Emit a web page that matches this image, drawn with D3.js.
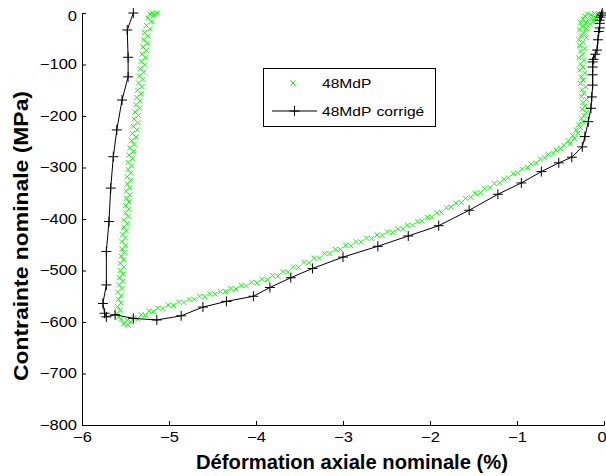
<!DOCTYPE html>
<html>
<head>
<meta charset="utf-8">
<script src="https://cdn.jsdelivr.net/npm/d3@7"></script>
<style>
  html, body { margin: 0; padding: 0; background: #fff; }
  svg { display: block; font-family: "Liberation Sans", Arial, sans-serif; }
</style>
</head>
<body>
<svg id="chart" width="606" height="476"></svg>
<script>
// ---------------- DATA ----------------
const xTicks = [-6, -5, -4, -3, -2, -1, 0];
const yTicks = [0, -100, -200, -300, -400, -500, -600, -700, -800];
const seriesNames = ["48MdP", "48MdP", "corrigé"];

// raw measured series "48MdP" (strain %, stress MPa)
const raw48MdP = [
  [-0.03,-1],[-0.07,-3],[-0.11,-1],[-0.15,-4],[-0.19,-2],[-0.22,-6],[-0.05,-7],[-0.1,-9],[-0.14,-11],[-0.18,-13],
  [-0.24,-12],[-0.27,-18],[-0.21,-20],[-0.16,-22],[-0.12,-17],[-0.25,-26],[-0.2,-30],[-0.28,-33],[-0.23,-38],[-0.26,-44],
  [-0.2,-48],[-0.29,-52],[-0.24,-57],[-0.28,-63],[-0.22,-69],[-0.27,-74],[-0.25,-81],[-0.29,-87],[-0.23,-92],[-0.27,-99],
  [-0.24,-105],[-0.28,-111],[-0.22,-117],[-0.26,-124],[-0.24,-130],[-0.27,-137],[-0.21,-143],[-0.25,-149],[-0.23,-156],[-0.26,-162],
  [-0.2,-168],[-0.24,-174],[-0.22,-181],[-0.25,-187],[-0.2,-193],[-0.23,-199],[-0.26,-205],[-0.24,-211],[-0.29,-216],[-0.27,-222],
  [-0.32,-227],[-0.3,-233],[-0.36,-238],[-0.34,-244],[-0.41,-248],[-0.39,-254],[-0.46,-257],[-0.5,-263],[-0.55,-266],[-0.58,-272],
  [-0.64,-275],[-0.68,-281],[-0.73,-284],[-0.78,-291],[-0.84,-293],[-0.88,-300],[-0.94,-303],[-0.99,-310],[-1.04,-312],[-1.1,-320],
  [-1.15,-322],[-1.2,-330],[-1.26,-331],[-1.31,-339],[-1.37,-341],[-1.42,-349],[-1.48,-350],[-1.53,-358],[-1.59,-360],[-1.64,-368],
  [-1.7,-369],[-1.76,-377],[-1.81,-378],[-1.87,-387],[-1.92,-388],[-1.98,-396],[-2.03,-397],[-2.09,-404],[-2.14,-405],[-2.2,-412],
  [-2.26,-412],[-2.31,-419],[-2.37,-419],[-2.43,-426],[-2.49,-425],[-2.55,-432],[-2.61,-431],[-2.67,-438],[-2.73,-437],[-2.79,-445],
  [-2.85,-444],[-2.91,-452],[-2.97,-451],[-3.03,-459],[-3.09,-459],[-3.15,-467],[-3.21,-467],[-3.27,-476],[-3.33,-476],[-3.39,-485],
  [-3.45,-484],[-3.51,-494],[-3.57,-493],[-3.63,-503],[-3.69,-502],[-3.75,-511],[-3.81,-510],[-3.87,-518],[-3.93,-517],[-3.99,-524],
  [-4.05,-523],[-4.11,-530],[-4.17,-529],[-4.23,-536],[-4.29,-535],[-4.35,-541],[-4.41,-541],[-4.47,-546],[-4.53,-545],[-4.59,-551],
  [-4.65,-550],[-4.71,-556],[-4.77,-556],[-4.83,-562],[-4.89,-561],[-4.95,-568],[-5.01,-567],[-5.07,-574],[-5.13,-573],[-5.18,-580],
  [-5.23,-579],[-5.27,-587],[-5.32,-586],[-5.36,-594],[-5.4,-592],[-5.44,-600],[-5.48,-597],[-5.52,-603],[-5.47,-606],[-5.55,-595],
  [-5.58,-590],[-5.6,-584],[-5.56,-577],[-5.59,-570],[-5.55,-563],[-5.58,-556],[-5.55,-549],[-5.59,-542],[-5.54,-535],[-5.57,-528],
  [-5.53,-521],[-5.57,-514],[-5.53,-507],[-5.56,-500],[-5.52,-493],[-5.56,-486],[-5.52,-479],[-5.55,-472],[-5.51,-465],[-5.54,-458],
  [-5.5,-451],[-5.54,-444],[-5.5,-437],[-5.53,-430],[-5.49,-423],[-5.52,-416],[-5.48,-409],[-5.52,-402],[-5.47,-395],[-5.5,-388],
  [-5.46,-381],[-5.5,-374],[-5.46,-367],[-5.49,-360],[-5.45,-353],[-5.49,-346],[-5.45,-339],[-5.48,-332],[-5.44,-325],[-5.48,-318],
  [-5.44,-311],[-5.47,-304],[-5.43,-297],[-5.47,-290],[-5.42,-283],[-5.46,-276],[-5.41,-269],[-5.45,-262],[-5.4,-255],[-5.43,-248],
  [-5.38,-241],[-5.42,-234],[-5.37,-227],[-5.41,-220],[-5.36,-213],[-5.4,-206],[-5.35,-199],[-5.39,-192],[-5.34,-185],[-5.38,-178],
  [-5.33,-171],[-5.37,-164],[-5.32,-157],[-5.36,-150],[-5.31,-143],[-5.35,-136],[-5.3,-129],[-5.34,-122],[-5.29,-115],[-5.33,-108],
  [-5.28,-101],[-5.32,-94],[-5.27,-87],[-5.31,-80],[-5.26,-73],[-5.3,-66],[-5.25,-59],[-5.29,-52],[-5.24,-45],[-5.28,-38],
  [-5.22,-31],[-5.26,-24],[-5.2,-17],[-5.24,-10],[-5.18,-5],[-5.22,-2],[-5.15,-1],[-5.19,0],[-5.13,0]
];

// corrected series "48MdP corrigé" (strain %, stress MPa)
const corrected48MdP = [
  [-0.02,0],[-0.03,-4],[-0.04,-8],[-0.05,-14],[-0.05,-20],[-0.05,-29],[-0.06,-36],[-0.07,-52],[-0.08,-72],[-0.1,-80],
  [-0.12,-90],[-0.13,-95],[-0.13,-105],[-0.13,-120],[-0.13,-140],[-0.14,-163],[-0.15,-185],[-0.18,-211],[-0.22,-240],[-0.25,-260],
  [-0.37,-280],[-0.52,-291],[-0.72,-308],[-0.95,-330],[-1.22,-352],[-1.55,-383],[-1.9,-413],[-2.25,-433],[-2.6,-453],[-3.0,-474],
  [-3.35,-496],[-3.6,-514],[-3.84,-533],[-4.03,-550],[-4.34,-560],[-4.61,-571],[-4.86,-588],[-5.14,-596],[-5.41,-593],[-5.62,-586],
  [-5.72,-590],[-5.74,-583],[-5.76,-564],[-5.72,-528],[-5.72,-463],[-5.69,-405],[-5.67,-340],[-5.64,-279],[-5.6,-227],[-5.54,-169],
  [-5.47,-124],[-5.47,-86],[-5.48,-33],[-5.41,0]
];

// ---------------- LAYOUT ----------------
const L = 82, R = 604, T = 13, B = 425;
const green = "#00ff00";
const svg = d3.select("#chart");

const x = d3.scaleLinear().domain([-6, 0]).range([L, R]);
const y = d3.scaleLinear().domain([-800, 0]).range([B, T]);

// axes (MATLAB style, inward ticks, no box)
const fmt = d => d === 0 ? "0" : "\u2212" + Math.abs(d);
const yAxis = d3.axisLeft(y).tickValues(yTicks).tickSizeInner(-4).tickSizeOuter(0).tickPadding(5).tickFormat(fmt);
const xAxis = d3.axisBottom(x).tickValues(xTicks).tickSizeInner(-4).tickSizeOuter(0).tickPadding(8).tickFormat(fmt);

const gy = svg.append("g").attr("transform", `translate(${L},0)`).call(yAxis);
const gx = svg.append("g").attr("transform", `translate(0,${B})`).call(xAxis);
[gx, gy].forEach(g => {
  g.select(".domain").attr("stroke", "#000").attr("stroke-width", 1);
  g.selectAll(".tick line").attr("stroke", "#000");
  g.selectAll(".tick text").attr("fill", "#000")
    .style("font-family", "'Liberation Sans', Arial, sans-serif").style("font-size", "14px");
});
gy.selectAll(".tick text").attr("x", -5 / 1.18).attr("transform", "scale(1.18,1)");
gy.selectAll(".tick text").filter(d => d === 0).attr("dy", "0.55em");
gx.selectAll(".tick text").attr("transform", "scale(1.18,1)").attr("dy", "0.71em").attr("y", 7);
gx.selectAll(".tick text").filter(d => d === 0).attr("x", -2);

// axis titles
svg.append("text")
  .attr("x", 352).attr("y", 469)
  .attr("text-anchor", "middle")
  .style("font-weight", "bold").style("font-size", "20px")
  .attr("textLength", 312).attr("lengthAdjust", "spacingAndGlyphs")
  .text("Déformation axiale nominale (%)");

svg.append("text")
  .attr("transform", "translate(28,236) rotate(-90)")
  .attr("text-anchor", "middle")
  .style("font-weight", "bold").style("font-size", "20px")
  .attr("textLength", 290).attr("lengthAdjust", "spacingAndGlyphs")
  .text("Contrainte nominale (MPa)");

// marker helpers
function crossPath(cx, cy, s) {
  return `M${cx - s},${cy - s}L${cx + s},${cy + s}M${cx - s},${cy + s}L${cx + s},${cy - s}`;
}
function plusPath(cx, cy, s) {
  return `M${cx - s},${cy}L${cx + s},${cy}M${cx},${cy - s}L${cx},${cy + s}`;
}

// raw series: green x markers
svg.append("g").selectAll("path")
  .data(raw48MdP).join("path")
  .attr("d", d => crossPath(x(d[0]), y(d[1]), 2.5))
  .attr("stroke", green).attr("stroke-width", 1).attr("fill", "none");

// corrected series: black line with + markers
const line = d3.line().x(d => x(d[0])).y(d => y(d[1]));
svg.append("path").datum(corrected48MdP)
  .attr("d", line).attr("fill", "none").attr("stroke", "#000").attr("stroke-width", 1);
svg.append("g").selectAll("path")
  .data(corrected48MdP).join("path")
  .attr("d", d => plusPath(x(d[0]), y(d[1]), 5))
  .attr("stroke", "#000").attr("stroke-width", 1).attr("fill", "none");

// legend
const lg = svg.append("g");
lg.append("rect").attr("x", 263.5).attr("y", 68.5).attr("width", 172).attr("height", 58)
  .attr("fill", "#fff").attr("stroke", "#000").attr("stroke-width", 1);
lg.append("path").attr("d", crossPath(293, 83, 2.5)).attr("stroke", green).attr("fill", "none");
lg.append("text").attr("transform", "translate(322,88) scale(1.3,1)")
  .style("font-size", "12px").text(seriesNames[0]);
lg.append("line").attr("x1", 272).attr("x2", 317).attr("y1", 111).attr("y2", 111).attr("stroke", "#000");
lg.append("path").attr("d", plusPath(294.5, 111, 5)).attr("stroke", "#000").attr("fill", "none");
const t2 = lg.append("text").attr("transform", "translate(322,115.5) scale(1.3,1)").style("font-size", "12px");
t2.append("tspan").text(seriesNames[1]);
t2.append("tspan").attr("dx", 4).text(seriesNames[2]);
</script>
</body>
</html>
